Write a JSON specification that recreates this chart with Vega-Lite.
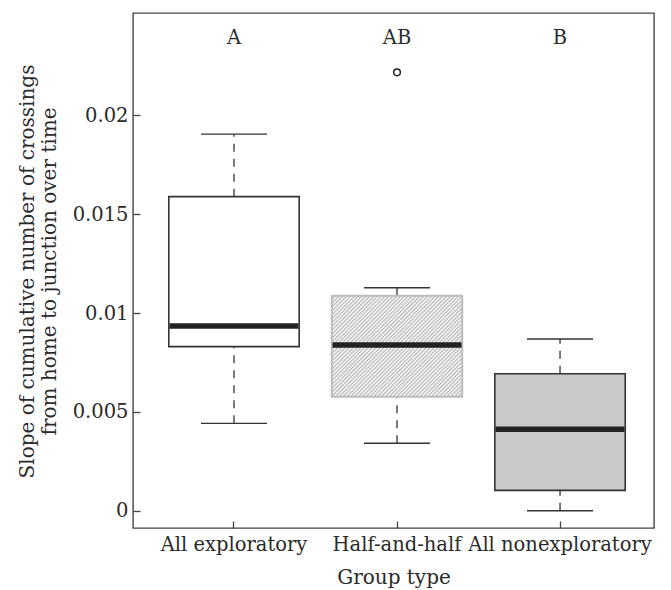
{
  "$schema": "https://vega.github.io/schema/vega-lite/v6.json",
  "width": 521,
  "height": 515,
  "autosize": {"type": "none"},
  "padding": {"left": 133, "top": 13, "right": 17, "bottom": 62},
  "background": "white",
  "config": {
    "font": "DejaVu Serif",
    "view": {"stroke": "#444", "strokeWidth": 1.4},
    "axis": {
      "grid": false, "domain": false,
      "labelFont": "DejaVu Serif", "titleFont": "DejaVu Serif",
      "labelColor": "#2a2a2a", "titleColor": "#2a2a2a",
      "labelFontSize": 19.5, "titleFontSize": 20, "titleFontWeight": "normal",
      "labelLimit": 400, "titleLimit": 600,
      "tickColor": "#444", "tickWidth": 1.3
    }
  },
  "datasets": {
    "boxes": [
      {"group": "All exploratory", "lower": 0.00442, "q1": 0.0083, "median": 0.00934, "q3": 0.01589, "upper": 0.01905, "letter": "A"},
      {"group": "Half-and-half", "lower": 0.00341, "q1": 0.00577, "median": 0.00838, "q3": 0.01088, "upper": 0.01128, "letter": "AB"},
      {"group": "All nonexploratory", "lower": 0.0, "q1": 0.00103, "median": 0.00412, "q3": 0.00693, "upper": 0.00869, "letter": "B"}
    ],
    "outliers": [
      {"group": "Half-and-half", "value": 0.02218}
    ]
  },
  "data": {"name": "boxes"},
  "encoding": {
    "x": {
      "field": "group", "type": "nominal", "sort": null,
      "scale": {"domain": ["All exploratory", "Half-and-half", "All nonexploratory"], "paddingInner": 0, "paddingOuter": 0.098, "align": 0.61},
      "axis": {"title": "Group type", "labelAngle": 0, "tickSize": -7, "labelPadding": 14, "titlePadding": 14}
    }
  },
  "layer": [
    {
      "mark": {"type": "rule", "stroke": "#333", "strokeWidth": 1.3, "strokeDash": [8, 7]},
      "encoding": {
        "y": {"field": "lower", "type": "quantitative",
          "scale": {"domain": [-0.000875, 0.02518], "nice": false, "zero": false},
          "axis": {
            "title": ["Slope of cumulative number of crossings", "from home to junction over time"],
            "values": [0, 0.005, 0.01, 0.015, 0.02], "format": "~g",
            "tickSize": -7, "labelPadding": 12, "titleLineHeight": 22,
            "titleX": -96, "titleY": 258
          }},
        "y2": {"field": "q1"}
      }
    },
    {
      "mark": {"type": "rule", "stroke": "#333", "strokeWidth": 1.3, "strokeDash": [8, 7]},
      "encoding": {
        "y": {"field": "q3", "type": "quantitative"},
        "y2": {"field": "upper"}
      }
    },
    {
      "mark": {"type": "tick", "orient": "horizontal", "color": "#333", "thickness": 1.4, "size": 66, "opacity": 1},
      "encoding": {"y": {"field": "lower", "type": "quantitative"}}
    },
    {
      "mark": {"type": "tick", "orient": "horizontal", "color": "#333", "thickness": 1.4, "size": 66, "opacity": 1},
      "encoding": {"y": {"field": "upper", "type": "quantitative"}}
    },
    {
      "transform": [{"filter": "datum.group !== 'Half-and-half'"}],
      "mark": {"type": "bar", "width": {"band": 0.8}, "strokeWidth": 1.6, "stroke": "#333", "opacity": 1},
      "encoding": {
        "y": {"field": "q1", "type": "quantitative"},
        "y2": {"field": "q3"},
        "fill": {"field": "group", "type": "nominal", "legend": null,
          "scale": {"domain": ["All exploratory", "All nonexploratory"], "range": ["#ffffff", "#c8c9cb"]}}
      }
    },
    {
      "transform": [{"filter": "datum.group === 'Half-and-half'"}],
      "mark": {"type": "bar", "width": {"band": 0.8}, "strokeWidth": 2, "stroke": "#bdbdbd", "opacity": 1,
        "fill": {"gradient": "linear", "x1": 0, "y1": 0, "x2": 1.1107, "y2": 0.8564, "stops": [
          {"offset": 0, "color": "#b8b8b8"}, {"offset": 0.0083, "color": "#ffffff"}, {"offset": 0.0167, "color": "#b8b8b8"}, {"offset": 0.025, "color": "#ffffff"}, {"offset": 0.0333, "color": "#b8b8b8"}, {"offset": 0.0417, "color": "#ffffff"}, {"offset": 0.05, "color": "#b8b8b8"}, {"offset": 0.0583, "color": "#ffffff"}, {"offset": 0.0667, "color": "#b8b8b8"}, {"offset": 0.075, "color": "#ffffff"}, {"offset": 0.0833, "color": "#b8b8b8"}, {"offset": 0.0917, "color": "#ffffff"},
          {"offset": 0.1, "color": "#b8b8b8"}, {"offset": 0.1083, "color": "#ffffff"}, {"offset": 0.1167, "color": "#b8b8b8"}, {"offset": 0.125, "color": "#ffffff"}, {"offset": 0.1333, "color": "#b8b8b8"}, {"offset": 0.1417, "color": "#ffffff"}, {"offset": 0.15, "color": "#b8b8b8"}, {"offset": 0.1583, "color": "#ffffff"}, {"offset": 0.1667, "color": "#b8b8b8"}, {"offset": 0.175, "color": "#ffffff"}, {"offset": 0.1833, "color": "#b8b8b8"}, {"offset": 0.1917, "color": "#ffffff"},
          {"offset": 0.2, "color": "#b8b8b8"}, {"offset": 0.2083, "color": "#ffffff"}, {"offset": 0.2167, "color": "#b8b8b8"}, {"offset": 0.225, "color": "#ffffff"}, {"offset": 0.2333, "color": "#b8b8b8"}, {"offset": 0.2417, "color": "#ffffff"}, {"offset": 0.25, "color": "#b8b8b8"}, {"offset": 0.2583, "color": "#ffffff"}, {"offset": 0.2667, "color": "#b8b8b8"}, {"offset": 0.275, "color": "#ffffff"}, {"offset": 0.2833, "color": "#b8b8b8"}, {"offset": 0.2917, "color": "#ffffff"},
          {"offset": 0.3, "color": "#b8b8b8"}, {"offset": 0.3083, "color": "#ffffff"}, {"offset": 0.3167, "color": "#b8b8b8"}, {"offset": 0.325, "color": "#ffffff"}, {"offset": 0.3333, "color": "#b8b8b8"}, {"offset": 0.3417, "color": "#ffffff"}, {"offset": 0.35, "color": "#b8b8b8"}, {"offset": 0.3583, "color": "#ffffff"}, {"offset": 0.3667, "color": "#b8b8b8"}, {"offset": 0.375, "color": "#ffffff"}, {"offset": 0.3833, "color": "#b8b8b8"}, {"offset": 0.3917, "color": "#ffffff"},
          {"offset": 0.4, "color": "#b8b8b8"}, {"offset": 0.4083, "color": "#ffffff"}, {"offset": 0.4167, "color": "#b8b8b8"}, {"offset": 0.425, "color": "#ffffff"}, {"offset": 0.4333, "color": "#b8b8b8"}, {"offset": 0.4417, "color": "#ffffff"}, {"offset": 0.45, "color": "#b8b8b8"}, {"offset": 0.4583, "color": "#ffffff"}, {"offset": 0.4667, "color": "#b8b8b8"}, {"offset": 0.475, "color": "#ffffff"}, {"offset": 0.4833, "color": "#b8b8b8"}, {"offset": 0.4917, "color": "#ffffff"},
          {"offset": 0.5, "color": "#b8b8b8"}, {"offset": 0.5083, "color": "#ffffff"}, {"offset": 0.5167, "color": "#b8b8b8"}, {"offset": 0.525, "color": "#ffffff"}, {"offset": 0.5333, "color": "#b8b8b8"}, {"offset": 0.5417, "color": "#ffffff"}, {"offset": 0.55, "color": "#b8b8b8"}, {"offset": 0.5583, "color": "#ffffff"}, {"offset": 0.5667, "color": "#b8b8b8"}, {"offset": 0.575, "color": "#ffffff"}, {"offset": 0.5833, "color": "#b8b8b8"}, {"offset": 0.5917, "color": "#ffffff"},
          {"offset": 0.6, "color": "#b8b8b8"}, {"offset": 0.6083, "color": "#ffffff"}, {"offset": 0.6167, "color": "#b8b8b8"}, {"offset": 0.625, "color": "#ffffff"}, {"offset": 0.6333, "color": "#b8b8b8"}, {"offset": 0.6417, "color": "#ffffff"}, {"offset": 0.65, "color": "#b8b8b8"}, {"offset": 0.6583, "color": "#ffffff"}, {"offset": 0.6667, "color": "#b8b8b8"}, {"offset": 0.675, "color": "#ffffff"}, {"offset": 0.6833, "color": "#b8b8b8"}, {"offset": 0.6917, "color": "#ffffff"},
          {"offset": 0.7, "color": "#b8b8b8"}, {"offset": 0.7083, "color": "#ffffff"}, {"offset": 0.7167, "color": "#b8b8b8"}, {"offset": 0.725, "color": "#ffffff"}, {"offset": 0.7333, "color": "#b8b8b8"}, {"offset": 0.7417, "color": "#ffffff"}, {"offset": 0.75, "color": "#b8b8b8"}, {"offset": 0.7583, "color": "#ffffff"}, {"offset": 0.7667, "color": "#b8b8b8"}, {"offset": 0.775, "color": "#ffffff"}, {"offset": 0.7833, "color": "#b8b8b8"}, {"offset": 0.7917, "color": "#ffffff"},
          {"offset": 0.8, "color": "#b8b8b8"}, {"offset": 0.8083, "color": "#ffffff"}, {"offset": 0.8167, "color": "#b8b8b8"}, {"offset": 0.825, "color": "#ffffff"}, {"offset": 0.8333, "color": "#b8b8b8"}, {"offset": 0.8417, "color": "#ffffff"}, {"offset": 0.85, "color": "#b8b8b8"}, {"offset": 0.8583, "color": "#ffffff"}, {"offset": 0.8667, "color": "#b8b8b8"}, {"offset": 0.875, "color": "#ffffff"}, {"offset": 0.8833, "color": "#b8b8b8"}, {"offset": 0.8917, "color": "#ffffff"},
          {"offset": 0.9, "color": "#b8b8b8"}, {"offset": 0.9083, "color": "#ffffff"}, {"offset": 0.9167, "color": "#b8b8b8"}, {"offset": 0.925, "color": "#ffffff"}, {"offset": 0.9333, "color": "#b8b8b8"}, {"offset": 0.9417, "color": "#ffffff"}, {"offset": 0.95, "color": "#b8b8b8"}, {"offset": 0.9583, "color": "#ffffff"}, {"offset": 0.9667, "color": "#b8b8b8"}, {"offset": 0.975, "color": "#ffffff"}, {"offset": 0.9833, "color": "#b8b8b8"}, {"offset": 0.9917, "color": "#ffffff"},
          {"offset": 1, "color": "#b8b8b8"}
        ]}},
      "encoding": {
        "y": {"field": "q1", "type": "quantitative"},
        "y2": {"field": "q3"}
      }
    },
    {
      "mark": {"type": "tick", "orient": "horizontal", "color": "#222", "thickness": 5.5, "size": 129, "opacity": 1},
      "encoding": {"y": {"field": "median", "type": "quantitative"}}
    },
    {
      "mark": {"type": "text", "font": "DejaVu Serif", "fontSize": 19.5, "color": "#2a2a2a", "baseline": "middle", "align": "center"},
      "encoding": {
        "y": {"datum": 0.0239},
        "text": {"field": "letter"}
      }
    },
    {
      "data": {"name": "outliers"},
      "mark": {"type": "point", "shape": "circle", "filled": false, "stroke": "#222", "strokeWidth": 1.5, "size": 45, "opacity": 1},
      "encoding": {
        "y": {"field": "value", "type": "quantitative"}
      }
    }
  ]
}
